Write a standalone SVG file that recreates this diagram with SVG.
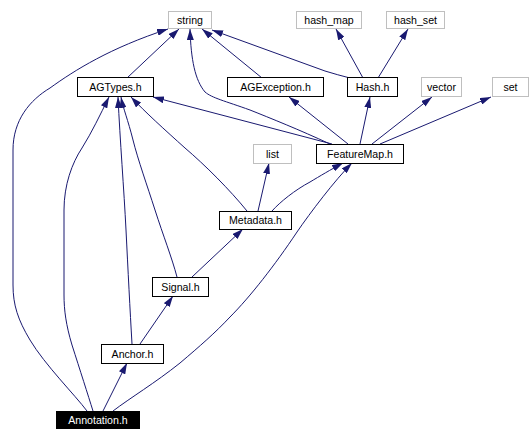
<svg xmlns="http://www.w3.org/2000/svg" width="530" height="442" viewBox="0 0 530 442">
<defs>
<marker id="a" markerWidth="11" markerHeight="7" refX="11" refY="3.5" orient="auto" markerUnits="userSpaceOnUse" viewBox="0 0 11 7"><path d="M0,0 L11,3.5 L0,7 z" fill="#191970"/></marker>
<style>
.n rect{fill:#fff;stroke:#000;stroke-width:1}
.x rect{fill:#fff;stroke:#bfbfbf;stroke-width:1}
.r rect{fill:#000;stroke:#000;stroke-width:1}
text{font-family:"Liberation Sans",Arial,sans-serif;font-size:10.6px;text-anchor:middle;fill:#000}
.r text{fill:#fff}
#edges path{fill:none;stroke:#191970;stroke-width:1;marker-end:url(#a)}
</style>
</defs>
<rect width="530" height="442" fill="#fff"/>
<g id="edges">
<path d="M127,78 L179,29"/>
<path d="M262,78 L202,29"/>
<path d="M350,78 Q338,75 325,71 L212,30"/>
<path d="M330,144 C300,130 270,118 250,110 C225,101 212,98 205,92 C195,80 191,60 190,29"/>
<path d="M87,411 C75,395 45,365 30,340 C18,320 13,305 13,285 L13,150 C13,120 30,100 50,88 C75,70 110,48 168,29"/>
<path d="M363,78 L336,29"/>
<path d="M378,78 L408,29"/>
<path d="M332,144 L153,97"/>
<path d="M348,144 L289,97"/>
<path d="M360,144 L370,97"/>
<path d="M372,144 L432,97"/>
<path d="M380,144 L491,97"/>
<path d="M247,211 C230,190 205,165 185,148 C165,130 145,112 131,97"/>
<path d="M258,211 L269,163"/>
<path d="M272,211 C280,202 295,190 310,182 C320,176 330,170 343,163"/>
<path d="M177,277 C172,258 163,235 155,210 C147,185 138,160 133,140 C128,120 123,108 121,97"/>
<path d="M192,277 L243,229"/>
<path d="M132,344 C130,310 128,270 126,230 C124,190 120,140 118,97"/>
<path d="M140,344 L173,296"/>
<path d="M93,411 C88,395 80,370 72,345 C66,325 64,310 64,295 L64,210 C64,185 72,163 82,148 C92,132 100,115 109,97"/>
<path d="M103,411 L127,363"/>
<path d="M113,411 C130,398 155,383 180,363 C200,346 215,333 230,317 C250,297 275,265 297,232 C310,213 335,180 352,163"/>
</g>
<g id="string" class="x"><rect x="168.5" y="11.5" width="43" height="17"/><text x="190" y="24">string</text></g>
<g id="hash_map" class="x"><rect x="296.5" y="11.5" width="65" height="17"/><text x="329" y="24">hash_map</text></g>
<g id="hash_set" class="x"><rect x="386.5" y="11.5" width="58" height="17"/><text x="415.5" y="24">hash_set</text></g>
<g id="AGTypes" class="n"><rect x="77.5" y="77.5" width="76" height="19"/><text x="115.5" y="90.5">AGTypes.h</text></g>
<g id="AGException" class="n"><rect x="227.5" y="77.5" width="96" height="19"/><text x="275.5" y="90.5">AGException.h</text></g>
<g id="Hash" class="n"><rect x="347.5" y="77.5" width="50" height="19"/><text x="372.5" y="90.5">Hash.h</text></g>
<g id="vector" class="x"><rect x="421.5" y="77.5" width="40" height="19"/><text x="441.5" y="90.5">vector</text></g>
<g id="set" class="x"><rect x="492.5" y="77.5" width="36" height="19"/><text x="510.5" y="90.5">set</text></g>
<g id="list" class="x"><rect x="253.5" y="144.5" width="38" height="19"/><text x="272.5" y="157.5">list</text></g>
<g id="FeatureMap" class="n"><rect x="316.5" y="144.5" width="87" height="19"/><text x="360" y="157.5">FeatureMap.h</text></g>
<g id="Metadata" class="n"><rect x="219.5" y="211.5" width="72" height="18"/><text x="255.5" y="224">Metadata.h</text></g>
<g id="Signal" class="n"><rect x="152.5" y="277.5" width="56" height="19"/><text x="180.5" y="290.5">Signal.h</text></g>
<g id="Anchor" class="n"><rect x="101.5" y="344.5" width="62" height="19"/><text x="132.5" y="357.5">Anchor.h</text></g>
<g id="Annotation" class="r"><rect x="56.5" y="411.5" width="83" height="17"/><text x="98" y="424">Annotation.h</text></g>
</svg>
